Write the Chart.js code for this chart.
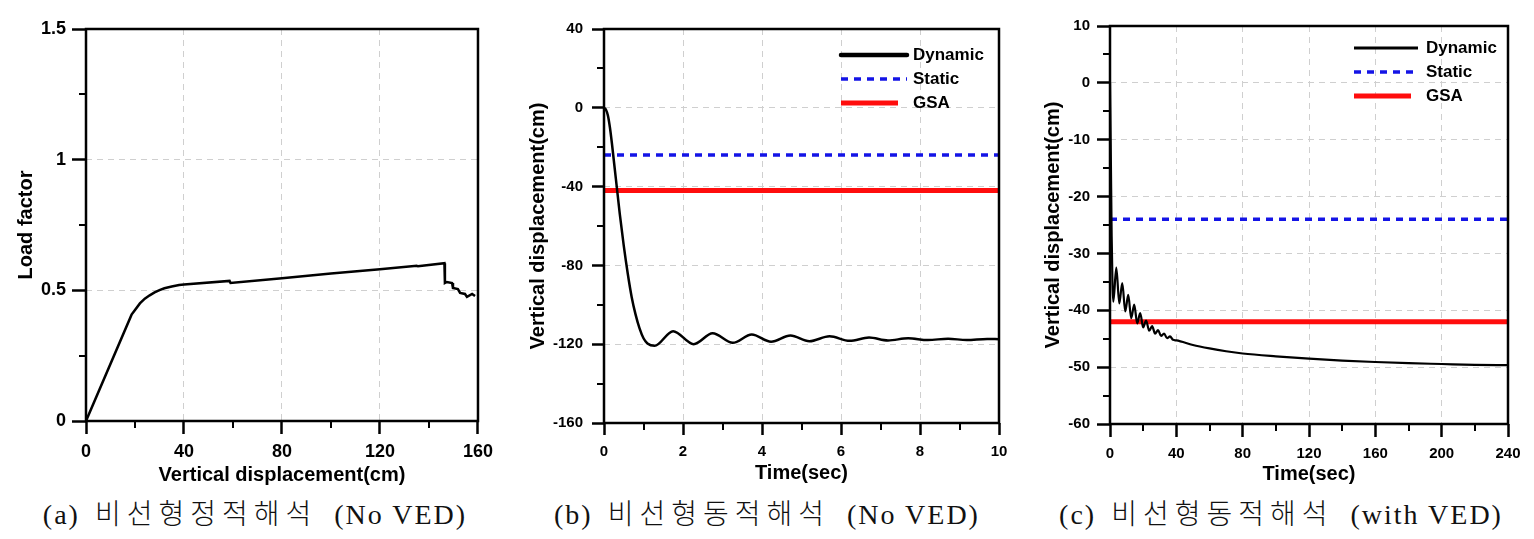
<!DOCTYPE html>
<html>
<head>
<meta charset="utf-8">
<script src="https://cdn.jsdelivr.net/npm/chart.js@4.4.1/dist/chart.umd.min.js"></script>
<style>
  body { margin: 0; background: #fff; width: 1534px; height: 539px; position: relative; overflow: hidden; }
  canvas { position: absolute; top: 0; }
  .cap {
    position: absolute; top: 499px; line-height: 32px;
    font-family: "Liberation Serif", "Noto Sans CJK KR", serif;
    font-size: 28px; letter-spacing: 2px; color: #111; font-weight: 300;
    white-space: nowrap; transform: translateX(-50%);
  }
  .cap .k { letter-spacing: 6px; margin: 0 8px 0 6px; }
</style>
</head>
<body>
<canvas id="chartA" width="500" height="490" style="left:0px"></canvas>
<canvas id="chartB" width="520" height="490" style="left:500px"></canvas>
<canvas id="chartC" width="514" height="490" style="left:1020px"></canvas>
<div class="cap" style="left:255px">(a) <span class="k">비선형정적해석</span> (No VED)</div>
<div class="cap" style="left:767px">(b) <span class="k">비선형동적해석</span> (No VED)</div>
<div class="cap" style="left:1281px">(c) <span class="k">비선형동적해석</span> (with VED)</div>
<script>
// (a) pushover curve
const aXTicks = [0, 40, 80, 120, 160];
const aYTicks = [0, 0.5, 1, 1.5];
const aDisp = [0, 18.6, 20, 22, 24, 26, 28, 30, 32, 35, 38, 40, 58.6, 59.0, 80, 100, 120, 135, 135.5,
  146.3, 146.5, 147.3, 149.4, 149.8, 151.8, 152.7, 154.7, 155.5, 157.6, 158.8];
const aLoad = [0, 0.407, 0.425, 0.45, 0.468, 0.481, 0.492, 0.501, 0.508, 0.515, 0.52, 0.522, 0.536, 0.528, 0.546, 0.564, 0.581, 0.594, 0.592,
  0.604, 0.528, 0.532, 0.528, 0.509, 0.505, 0.490, 0.486, 0.475, 0.486, 0.478];

// (b) dynamic, no VED
const bXTicks = [0, 2, 4, 6, 8, 10];
const bYTicks = [-160, -120, -80, -40, 0, 40];
const bTime = [0, 0.05, 0.1, 0.15, 0.2, 0.25, 0.3, 0.35, 0.4, 0.5, 0.6, 0.7, 0.8, 0.9, 1.0, 1.1, 1.28,
  1.75, 2.27, 2.75, 3.26, 3.74, 4.23, 4.72, 5.2, 5.71, 6.22, 6.71, 7.19, 7.7, 8.2, 8.71, 9.18, 9.7, 10];
const bDyn = [0, -1, -4, -10, -18, -27, -36, -45, -54, -70, -84, -96, -105, -112, -117, -119.6, -120.8,
  -113.4, -120.0, -114.5, -119.3, -115.1, -118.8, -115.6, -118.5, -116.0, -118.3, -116.6, -118.1, -117.0, -117.9, -117.2, -117.9, -117.3, -117.5];
const bLineTime = [0, 10];
const bStatic = [-24, -24];
const bGSA = [-42, -42];

// (c) dynamic, with VED
const cXTicks = [0, 40, 80, 120, 160, 200, 240];
const cYTicks = [-60, -50, -40, -30, -20, -10, 0, 10];
const cTime = [0, 0.5, 1.0, 1.5, 2.0, 3.8, 5.6, 7.4, 9.2, 11.0, 12.8, 14.6, 16.4, 18.2, 20.0, 21.8, 23.6, 25.4,
  27.2, 29.0, 30.8, 32.6, 34.4, 36.2, 38.0, 40, 50, 60, 70, 80, 100, 120, 140, 160, 180, 200, 220, 240];
const cDyn = [0, -13, -27, -35.5, -38.5, -32.5, -38.8, -35.2, -40.2, -37.3, -41.4, -39.0, -42.3, -40.5, -43.0, -41.8, -43.6, -42.8,
  -44.1, -43.5, -44.5, -44.1, -44.9, -44.6, -45.2, -45.3, -46.1, -46.7, -47.2, -47.6, -48.1, -48.5, -48.85, -49.1, -49.3, -49.45, -49.6, -49.65];
const cLineTime = [0, 240];
const cStatic = [-24, -24];
const cGSA = [-42, -42];

const seriesLabels = ['Dynamic', 'Static', 'GSA'];

function pts(xs, ys) {
  return xs.map((x, i) => ({ x: x, y: ys[i] }));
}

// box around the plot + short minor ticks between the major ones
const framePlugin = {
  id: 'frame',
  afterDatasetsDraw(chart) {
    const { ctx, chartArea: a, scales: { x, y } } = chart;
    ctx.save();
    ctx.strokeStyle = '#000';
    ctx.lineWidth = 2.5;
    ctx.strokeRect(a.left, a.top, a.right - a.left, a.bottom - a.top);
    ctx.lineWidth = 2;
    ctx.beginPath();
    const xt = x.ticks.map(t => t.value);
    const yt = y.ticks.map(t => t.value);
    for (let i = 1; i < xt.length; i++) {
      const px = Math.round(x.getPixelForValue((xt[i - 1] + xt[i]) / 2));
      ctx.moveTo(px, a.bottom);
      ctx.lineTo(px, a.bottom + 7);
    }
    for (let i = 1; i < yt.length; i++) {
      const py = Math.round(y.getPixelForValue((yt[i - 1] + yt[i]) / 2));
      ctx.moveTo(a.left, py);
      ctx.lineTo(a.left - 7, py);
    }
    ctx.stroke();
    ctx.restore();
  }
};

const boxLegend = {
  id: 'boxLegend',
  afterDraw(chart, args, opts) {
    if (!opts.x) return;
    const ctx = chart.ctx;
    ctx.save();
    ctx.font = 'bold 17px "Liberation Sans", Arial, sans-serif';
    ctx.textBaseline = 'middle';
    chart.data.datasets.forEach((ds, i) => {
      const y = opts.y + i * opts.gap;
      ctx.strokeStyle = ds.borderColor;
      ctx.lineWidth = ds.legendWidth || ds.borderWidth;
      ctx.setLineDash(ds.borderDash || []);
      ctx.lineCap = ds.legendCap || 'butt';
      ctx.beginPath();
      ctx.moveTo(opts.x, y);
      ctx.lineTo(opts.x + (ds.legendLen || opts.len), y);
      ctx.stroke();
      ctx.setLineDash([]);
      ctx.fillStyle = '#000';
      ctx.fillText(ds.label, opts.textX, y);
    });
    ctx.restore();
  }
};

function makeOptions(c) {
  const tickFont = { family: '"Liberation Sans", Arial, sans-serif', size: c.tickSize, weight: 'bold' };
  const titleFont = { family: '"Liberation Sans", Arial, sans-serif', size: 20, weight: 'bold' };
  return {
    responsive: false,
    animation: false,
    layout: { padding: c.padding },
    plugins: {
      legend: { display: false },
      tooltip: { enabled: false },
      boxLegend: c.legend || {}
    },
    scales: {
      x: {
        type: 'linear',
        min: c.xTicks[0],
        max: c.xTicks[c.xTicks.length - 1],
        afterBuildTicks: s => { s.ticks = c.xTicks.map(v => ({ value: v })); },
        afterFit: s => { s.height = c.xHeight; },
        ticks: { font: tickFont, color: '#000', padding: c.xTickPad, autoSkip: false, maxRotation: 0,
          callback: v => String(v) },
        grid: { color: '#cfcfcf', lineWidth: 1, tickColor: '#000', tickWidth: 2.5, tickLength: c.xTickLen },
        border: { display: false, dash: [6, 5] },
        title: { display: true, text: c.xTitle, font: titleFont, color: '#000', padding: { top: 0, bottom: c.xTitlePad } }
      },
      y: {
        type: 'linear',
        min: c.yTicks[0],
        max: c.yTicks[c.yTicks.length - 1],
        afterBuildTicks: s => { s.ticks = c.yTicks.map(v => ({ value: v })); },
        afterFit: s => { s.width = c.yWidth; },
        ticks: { font: tickFont, color: '#000', padding: c.yTickPad, autoSkip: false,
          callback: v => String(v) },
        grid: { color: '#cfcfcf', lineWidth: 1, tickColor: '#000', tickWidth: 2.5, tickLength: c.yTickLen },
        border: { display: false, dash: [6, 5] },
        title: { display: true, text: c.yTitle, font: titleFont, color: '#000', padding: { top: c.yTitlePad, bottom: 0 } }
      }
    }
  };
}

new Chart(document.getElementById('chartA'), {
  type: 'line',
  data: {
    datasets: [{
      label: 'Load factor',
      data: pts(aDisp, aLoad),
      borderColor: '#000',
      borderWidth: 2.5,
      pointRadius: 0,
      tension: 0,
      fill: false
    }]
  },
  options: makeOptions({
    xTicks: aXTicks, yTicks: aYTicks,
    xTitle: 'Vertical displacement(cm)', yTitle: 'Load factor',
    tickSize: 18, padding: { top: 29, right: 22, bottom: 0, left: 0 },
    yWidth: 86, xHeight: 69,
    yTickLen: 14, yTickPad: 6, xTickLen: 13, xTickPad: 7,
    yTitlePad: 14, xTitlePad: 3
  }),
  plugins: [framePlugin]
});

new Chart(document.getElementById('chartB'), {
  type: 'line',
  data: {
    datasets: [
      { label: seriesLabels[0], data: pts(bTime, bDyn), borderColor: '#000', borderWidth: 2.5,
        legendWidth: 4.5, legendCap: 'round', pointRadius: 0, cubicInterpolationMode: 'monotone', fill: false },
      { label: seriesLabels[1], data: pts(bLineTime, bStatic), borderColor: '#1414e6', borderWidth: 3.5,
        borderDash: [7, 6], pointRadius: 0, fill: false },
      { label: seriesLabels[2], data: pts(bLineTime, bGSA), borderColor: '#ff0d0d', borderWidth: 5,
        legendLen: 57, pointRadius: 0, fill: false }
    ]
  },
  options: makeOptions({
    xTicks: bXTicks, yTicks: bYTicks,
    xTitle: 'Time(sec)', yTitle: 'Vertical displacement(cm)',
    tickSize: 15, padding: { top: 29, right: 21, bottom: 0, left: 0 },
    yWidth: 104, xHeight: 67,
    yTickLen: 12, yTickPad: 9, xTickLen: 12, xTickPad: 8,
    yTitlePad: 26, xTitlePad: 5,
    legend: { x: 341, y: 55, gap: 24, len: 66, textX: 413 }
  }),
  plugins: [framePlugin, boxLegend]
});

new Chart(document.getElementById('chartC'), {
  type: 'line',
  data: {
    datasets: [
      { label: seriesLabels[0], data: pts(cTime, cDyn), borderColor: '#000', borderWidth: 2.2,
        legendWidth: 3, pointRadius: 0, cubicInterpolationMode: 'monotone', fill: false },
      { label: seriesLabels[1], data: pts(cLineTime, cStatic), borderColor: '#1414e6', borderWidth: 3.5,
        borderDash: [7, 6], pointRadius: 0, fill: false },
      { label: seriesLabels[2], data: pts(cLineTime, cGSA), borderColor: '#ff0d0d', borderWidth: 5,
        legendLen: 57, pointRadius: 0, fill: false }
    ]
  },
  options: makeOptions({
    xTicks: cXTicks, yTicks: cYTicks,
    xTitle: 'Time(sec)', yTitle: 'Vertical displacement(cm)',
    tickSize: 15, padding: { top: 26, right: 26, bottom: 0, left: 0 },
    yWidth: 90, xHeight: 66,
    yTickLen: 13, yTickPad: 7, xTickLen: 13, xTickPad: 8,
    yTitlePad: 21, xTitlePad: 4,
    legend: { x: 334, y: 48, gap: 24, len: 64, textX: 406 }
  }),
  plugins: [framePlugin, boxLegend]
});
</script>
</body>
</html>
